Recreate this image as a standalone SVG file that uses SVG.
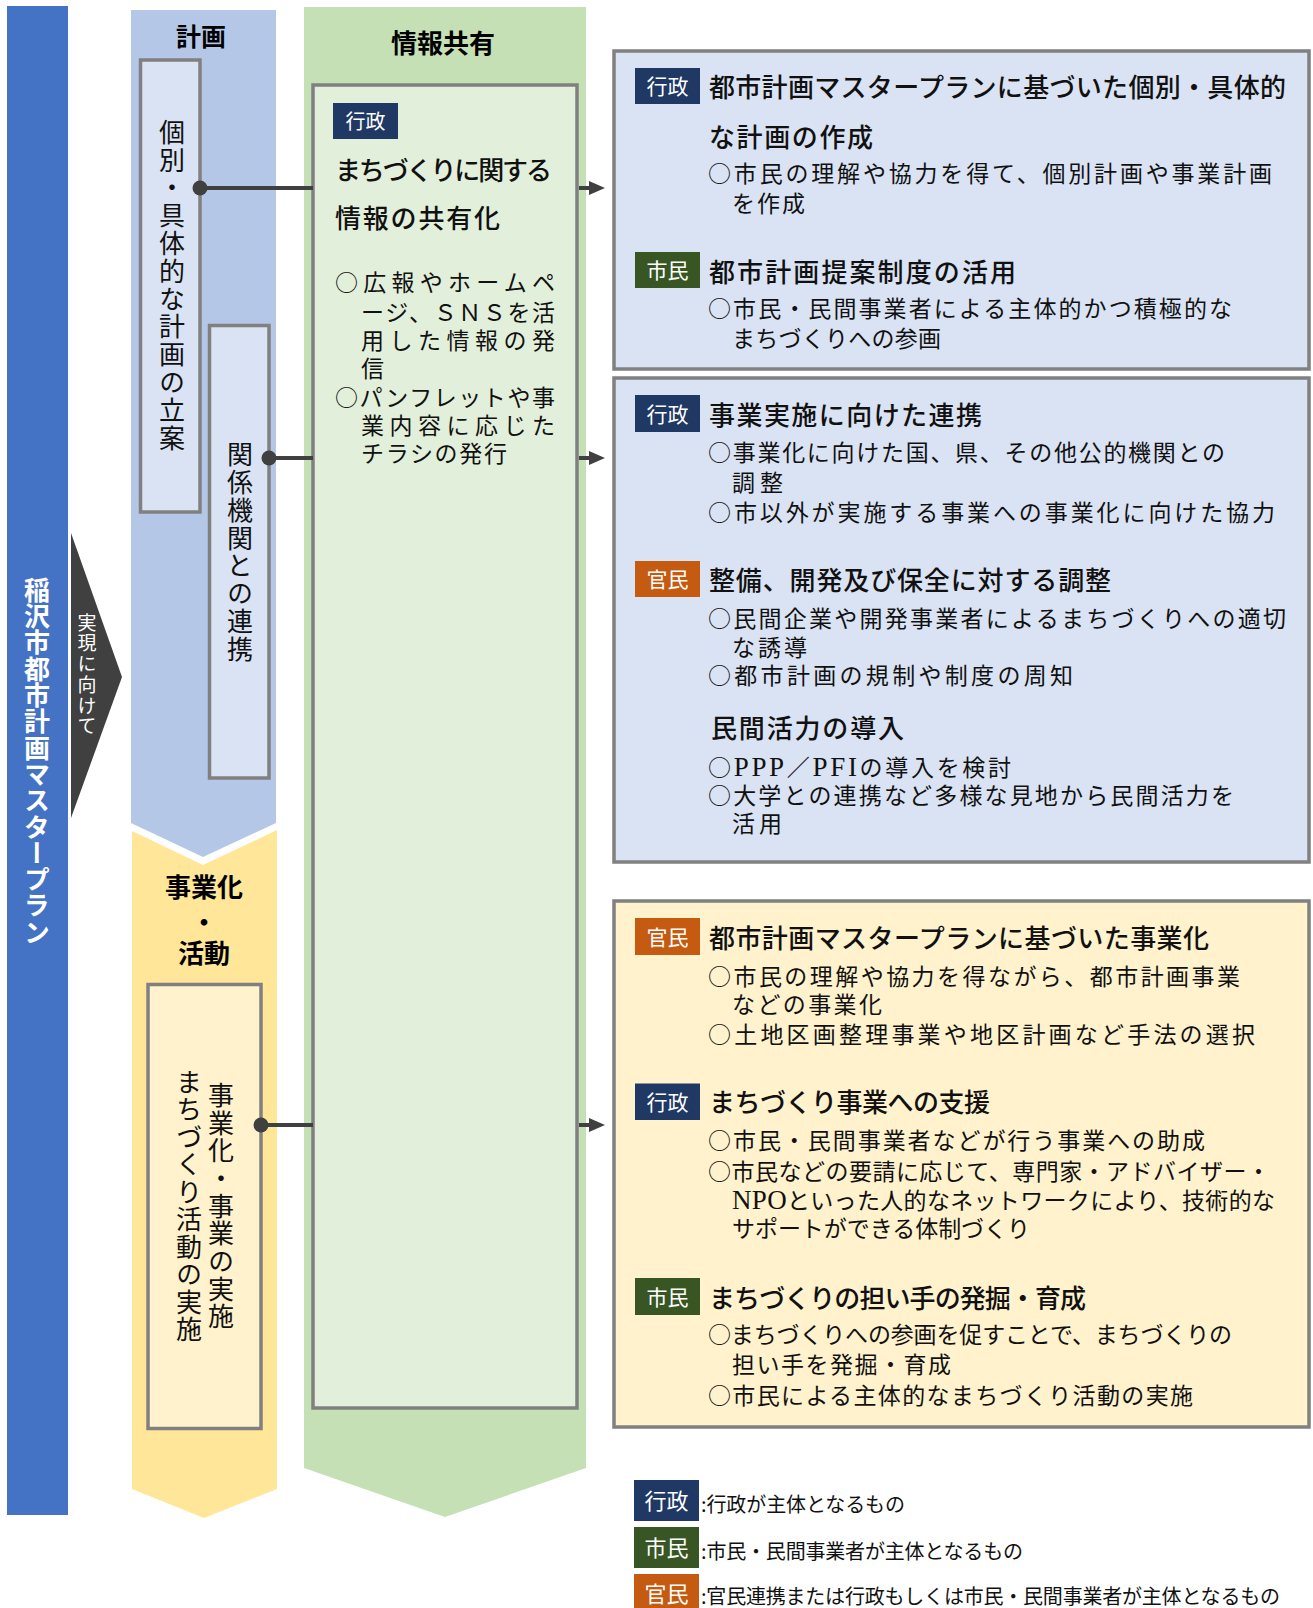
<svg xmlns="http://www.w3.org/2000/svg" width="1313" height="1608" viewBox="0 0 1313 1608">
<style>
  text { font-family: "Noto Sans CJK JP", "Noto Sans CJK SC", sans-serif; fill: #111; }
  .hdr { font-size: 25px; font-weight: 700; text-anchor: middle; fill: #000; }
  .title { font-size: 26px; font-weight: 500; }
  .body { font-size: 23px; }
  .gbody { font-size: 23px; }
  .lat { font-family: "Liberation Serif", serif; font-size: 27px; }
  .badge { font-size: 21px; fill: #fff; text-anchor: middle; }
  .vt { writing-mode: vertical-rl; font-size: 26px; letter-spacing: 1.8px; }
  .box { stroke: #808080; stroke-width: 3.5; }
  .conn { stroke: #404040; stroke-width: 4; fill: none; }
  .dot { fill: #404040; }
  .gyo { fill: #203864; }
  .shi { fill: #375623; }
  .kan { fill: #c55a11; }
  .leg { font-size: 20px; }
</style>
<defs>
  <marker id="ah" markerUnits="userSpaceOnUse" markerWidth="16" markerHeight="14" refX="2" refY="7" orient="auto">
    <path d="M0,0 L16,7 L0,14 z" fill="#404040"/>
  </marker>
</defs>

<!-- left master plan bar -->
<g id="master-plan">
  <rect x="7" y="6" width="61" height="1509" fill="#4472c4"/>
  <text class="vt" x="37" y="577" style="fill:#fff;font-weight:700;letter-spacing:0.3px">稲沢市都市計画マスタープラン</text>
</g>

<g id="realize-arrow">
  <polygon points="71,533 122,677 71,818" fill="#404040"/>
  <text class="vt" x="87" y="613" style="fill:#fff;font-size:19px;letter-spacing:1.7px">実現に向けて</text>
</g>

<!-- planning column -->
<g id="plan-column">
  <polygon points="131,10 276,10 276,823 203,857 131,823" fill="#b4c7e7"/>
  <text class="hdr" x="201" y="46">計画</text>
</g>
<g id="plan-individual">
  <rect class="box" x="140.5" y="60" width="59.5" height="452" fill="#dae3f3"/>
  <text class="vt" x="172" y="119">個別・具体的な計画の立案</text>
</g>
<g id="plan-cooperation">
  <rect class="box" x="209.5" y="325.5" width="59.5" height="452.5" fill="#dae3f3"/>
  <text class="vt" x="240" y="441" style="letter-spacing:1.9px">関係機関との連携</text>
</g>

<!-- business column -->
<g id="business-column">
  <polygon points="132,831 203,865 277,830 277,1489 204,1518 132,1489" fill="#ffe699"/>
  <text class="hdr" x="204" y="897" style="font-size:26px">事業化</text>
  <text class="hdr" x="204" y="932" style="font-size:26px">・</text>
  <text class="hdr" x="204" y="963" style="font-size:26px">活動</text>
</g>
<g id="business-impl">
  <rect class="box" x="148" y="984.5" width="113" height="444" fill="#fff2cc"/>
  <text class="vt" x="221" y="1082" style="letter-spacing:1.7px">事業化・事業の実施</text>
  <text class="vt" x="189" y="1069" style="letter-spacing:1.5px">まちづくり活動の実施</text>
</g>

<!-- information sharing column -->
<g id="info-column">
  <polygon points="304,7 586,7 586,1468 445,1517 304,1468" fill="#c5e0b4"/>
  <text class="hdr" x="443" y="53" style="font-size:26px">情報共有</text>
</g>
<g id="info-share">
  <rect class="box" x="313" y="85" width="264" height="1323" fill="#e2efda"/>
  <rect class="gyo" x="333" y="103" width="65" height="36"/>
  <text class="badge" x="365.5" y="129" style="font-size:20px">行政</text>
  <text class="title" x="335" y="180" textLength="217" lengthAdjust="spacing">まちづくりに関する</text>
  <text class="title" x="335" y="228" textLength="165" lengthAdjust="spacing">情報の共有化</text>
  <text class="gbody" x="335" y="291" textLength="220" lengthAdjust="spacing">○広報やホームペ</text>
  <text class="gbody" x="361" y="321" textLength="194" lengthAdjust="spacing">ージ、ＳＮＳを活</text>
  <text class="gbody" x="361" y="349" textLength="194" lengthAdjust="spacing">用した情報の発</text>
  <text class="gbody" x="361" y="377">信</text>
  <text class="gbody" x="335" y="406" textLength="220" lengthAdjust="spacing">○パンフレットや事</text>
  <text class="gbody" x="361" y="434" textLength="194" lengthAdjust="spacing">業内容に応じた</text>
  <text class="gbody" x="361" y="462" textLength="146" lengthAdjust="spacing">チラシの発行</text>
</g>

<!-- right box 1 -->
<g id="box-plan">
  <rect class="box" x="614" y="51" width="695" height="318" fill="#dae3f3"/>
  <rect class="gyo" x="635" y="68" width="65" height="36"/>
  <text class="badge" x="667.5" y="94">行政</text>
  <text class="title" x="709" y="97" textLength="577" lengthAdjust="spacing">都市計画マスタープランに基づいた個別・具体的</text>
  <text class="title" x="709" y="147" textLength="164" lengthAdjust="spacing">な計画の作成</text>
  <text class="body" x="708" y="182" textLength="564" lengthAdjust="spacing">○市民の理解や協力を得て、個別計画や事業計画</text>
  <text class="body" x="732" y="212" textLength="73" lengthAdjust="spacing">を作成</text>
  <rect class="shi" x="635" y="252" width="65" height="36"/>
  <text class="badge" x="667.5" y="278">市民</text>
  <text class="title" x="709" y="282" textLength="307" lengthAdjust="spacing">都市計画提案制度の活用</text>
  <text class="body" x="708" y="317" textLength="524" lengthAdjust="spacing">○市民・民間事業者による主体的かつ積極的な</text>
  <text class="body" x="732" y="347" textLength="209" lengthAdjust="spacing">まちづくりへの参画</text>
</g>

<!-- right box 2 -->
<g id="box-cooperation">
  <rect class="box" x="614" y="378" width="695" height="484" fill="#dae3f3"/>
  <rect class="gyo" x="635" y="395" width="65" height="37"/>
  <text class="badge" x="667.5" y="421.5">行政</text>
  <text class="title" x="709" y="425" textLength="273" lengthAdjust="spacing">事業実施に向けた連携</text>
  <text class="body" x="708" y="461" textLength="517" lengthAdjust="spacing">○事業化に向けた国、県、その他公的機関との</text>
  <text class="body" x="732" y="491" textLength="51" lengthAdjust="spacing">調整</text>
  <text class="body" x="708" y="521" textLength="567" lengthAdjust="spacing">○市以外が実施する事業への事業化に向けた協力</text>
  <rect class="kan" x="635" y="561" width="65" height="36"/>
  <text class="badge" x="667.5" y="587">官民</text>
  <text class="title" x="709" y="590" textLength="402" lengthAdjust="spacing">整備、開発及び保全に対する調整</text>
  <text class="body" x="708" y="627" textLength="578" lengthAdjust="spacing">○民間企業や開発事業者によるまちづくりへの適切</text>
  <text class="body" x="732" y="656" textLength="75" lengthAdjust="spacing">な誘導</text>
  <text class="body" x="708" y="684" textLength="365" lengthAdjust="spacing">○都市計画の規制や制度の周知</text>
  <text class="title" x="711" y="738" textLength="193" lengthAdjust="spacing">民間活力の導入</text>
  <text class="body" x="708" y="776" textLength="303" lengthAdjust="spacing">○<tspan class="lat">PPP</tspan>／<tspan class="lat">PFI</tspan>の導入を検討</text>
  <text class="body" x="708" y="804" textLength="526" lengthAdjust="spacing">○大学との連携など多様な見地から民間活力を</text>
  <text class="body" x="732" y="832" textLength="50" lengthAdjust="spacing">活用</text>
</g>

<!-- right box 3 -->
<g id="box-business">
  <rect class="box" x="614" y="901" width="695" height="526" fill="#fff2cc"/>
  <rect class="kan" x="635" y="918" width="65" height="37"/>
  <text class="badge" x="667.5" y="944.5">官民</text>
  <text class="title" x="709" y="948" textLength="500" lengthAdjust="spacing">都市計画マスタープランに基づいた事業化</text>
  <text class="body" x="708" y="985" textLength="532" lengthAdjust="spacing">○市民の理解や協力を得ながら、都市計画事業</text>
  <text class="body" x="732" y="1013" textLength="150" lengthAdjust="spacing">などの事業化</text>
  <text class="body" x="708" y="1043" textLength="547" lengthAdjust="spacing">○土地区画整理事業や地区計画など手法の選択</text>
  <rect class="gyo" x="635" y="1083.5" width="65" height="36.5"/>
  <text class="badge" x="667.5" y="1110">行政</text>
  <text class="title" x="709" y="1112" textLength="281" lengthAdjust="spacing">まちづくり事業への支援</text>
  <text class="body" x="708" y="1149" textLength="497" lengthAdjust="spacing">○市民・民間事業者などが行う事業への助成</text>
  <text class="body" x="708" y="1180" textLength="562" lengthAdjust="spacing">○市民などの要請に応じて、専門家・アドバイザー・</text>
  <text class="body" x="732" y="1209" textLength="543" lengthAdjust="spacing"><tspan class="lat">NPO</tspan>といった人的なネットワークにより、技術的な</text>
  <text class="body" x="732" y="1237" textLength="298" lengthAdjust="spacing">サポートができる体制づくり</text>
  <rect class="shi" x="635" y="1278" width="65" height="37"/>
  <text class="badge" x="667.5" y="1304.5">市民</text>
  <text class="title" x="709" y="1308" textLength="377" lengthAdjust="spacing">まちづくりの担い手の発掘・育成</text>
  <text class="body" x="708" y="1343" textLength="524" lengthAdjust="spacing">○まちづくりへの参画を促すことで、まちづくりの</text>
  <text class="body" x="732" y="1373" textLength="219" lengthAdjust="spacing">担い手を発掘・育成</text>
  <text class="body" x="708" y="1404" textLength="485" lengthAdjust="spacing">○市民による主体的なまちづくり活動の実施</text>
</g>

<!-- legend -->
<g id="legend">
  <rect class="gyo" x="634" y="1480" width="65" height="41"/>
  <text class="badge" x="666.5" y="1509" style="font-size:22px">行政</text>
  <text class="leg" x="701" y="1512" textLength="204" lengthAdjust="spacing">:行政が主体となるもの</text>
  <rect class="shi" x="634" y="1527" width="65" height="41"/>
  <text class="badge" x="666.5" y="1556" style="font-size:22px">市民</text>
  <text class="leg" x="701" y="1559" textLength="322" lengthAdjust="spacing">:市民・民間事業者が主体となるもの</text>
  <rect class="kan" x="634" y="1574" width="65" height="41"/>
  <text class="badge" x="666.5" y="1602" style="font-size:22px">官民</text>
  <text class="leg" x="701" y="1604" textLength="579" lengthAdjust="spacing">:官民連携または行政もしくは市民・民間事業者が主体となるもの</text>
</g>

<!-- connectors -->
<g id="connectors">
  <line class="conn" x1="200" y1="188" x2="313" y2="188"/>
  <circle class="dot" cx="200" cy="188" r="7.5"/>
  <line class="conn" x1="269" y1="458" x2="313" y2="458"/>
  <circle class="dot" cx="269" cy="458" r="7.5"/>
  <line class="conn" x1="261" y1="1125" x2="313" y2="1125"/>
  <circle class="dot" cx="261" cy="1125" r="7.5"/>
  <line class="conn" x1="579" y1="188" x2="591" y2="188" marker-end="url(#ah)"/>
  <line class="conn" x1="579" y1="458" x2="591" y2="458" marker-end="url(#ah)"/>
  <line class="conn" x1="579" y1="1125" x2="591" y2="1125" marker-end="url(#ah)"/>
</g>
</svg>
